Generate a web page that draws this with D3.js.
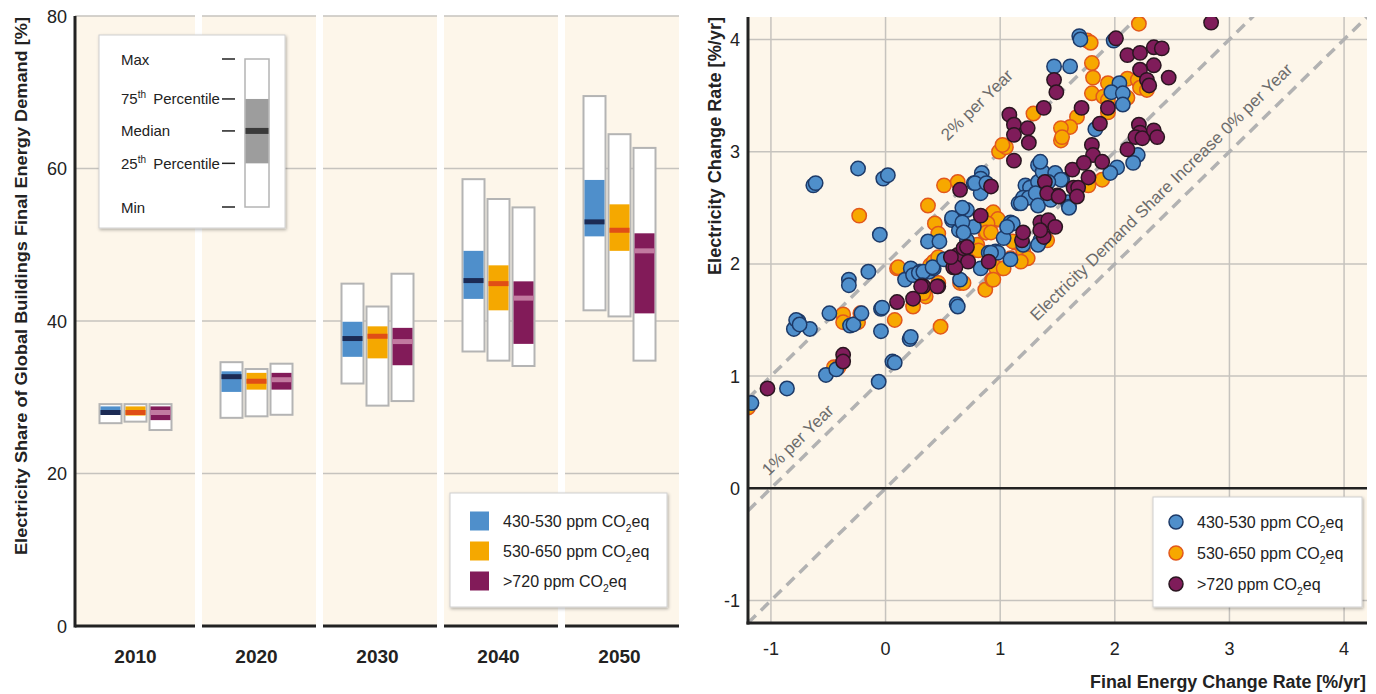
<!DOCTYPE html>
<html>
<head>
<meta charset="utf-8">
<script src="https://cdn.jsdelivr.net/npm/d3@7"></script>
<style>
  body { margin: 0; background: #fff; }
  svg text { font-family: "Liberation Sans", Arial, sans-serif; fill: #222; }
</style>
</head>
<body>
<svg id="chart" width="1376" height="694"></svg>
<script>
// ---- data ----
let years = ["2010", "2020", "2030", "2040", "2050"];
let seriesNames = ["430-530 ppm CO", "530-650 ppm CO", ">720 ppm CO"];

// [min, q1, median, q3, max] per year
let box430 = [[26.6, 27.7, 28.0, 28.8, 29.1], [27.3, 30.7, 32.7, 33.4, 34.6], [31.8, 35.3, 37.7, 39.9, 44.9], [36.0, 42.9, 45.3, 49.2, 58.6], [41.4, 51.1, 53.0, 58.5, 69.5]];
let box530 = [[26.8, 27.6, 28.0, 28.8, 29.1], [27.5, 31.0, 32.1, 33.2, 33.7], [28.9, 35.1, 38.0, 39.3, 41.9], [34.8, 41.4, 44.9, 47.3, 56.0], [40.6, 49.2, 51.9, 55.3, 64.5]];
let box720 = [[25.7, 27.0, 28.0, 28.8, 29.1], [27.7, 31.0, 32.3, 33.2, 34.4], [29.5, 34.2, 37.3, 39.1, 46.2], [34.1, 37.0, 43.0, 45.2, 54.9], [34.8, 41.0, 49.2, 51.5, 62.7]];

let leftTicks = [0, 20, 40, 60, 80];
let rightTicks = [-1, 0, 1, 2, 3, 4];
let keyLabels = ["Max", "75th Percentile", "Median", "25th Percentile", "Min"];

// final energy change rate, electricity change rate [%/yr]
let pts430 = [[-1.17,0.76],[-0.86,0.89],[-0.80,1.42],[-0.76,1.49],[-0.78,1.50],[-0.66,1.42],[-0.75,1.46],[-0.52,1.01],[-0.43,1.06],[-0.49,1.56],[-0.31,1.45],[-0.28,1.46],[-0.21,1.56],[-0.32,1.86],[-0.32,1.81],[-0.15,1.93],[-0.04,1.60],[-0.04,1.40],[-0.06,0.95],[0.06,1.13],[0.08,1.12],[0.21,1.33],[0.62,1.64],[0.63,1.62],[0.65,1.86],[0.17,1.86],[0.22,1.96],[0.30,1.93],[0.38,1.93],[0.42,1.96],[0.83,1.96],[1.09,2.04],[0.96,2.11],[0.90,2.10],[0.37,2.20],[0.47,2.20],
  [-0.63,2.70],[-0.61,2.72],[-0.24,2.85],[-0.02,2.76],[0.02,2.79],[-0.05,2.26],[0.58,2.39],[0.64,2.30],[0.65,2.39],[0.71,2.48],[0.77,2.33],[0.71,2.21],[0.77,2.72],[0.84,2.81],[0.83,2.76],[0.83,2.63],[1.03,2.23],[1.09,2.37],[1.11,2.36],[1.16,2.54],[1.22,2.70],[1.24,2.60],[1.26,2.68],[1.33,2.88],[1.33,2.73],[1.20,2.17],
  [1.37,2.82],[1.20,2.59],[1.25,2.59],[1.31,2.63],[1.33,2.52],[1.18,2.54],[1.50,2.77],[1.54,2.75],[1.59,2.55],[1.60,2.51],[0.78,2.72],[0.88,2.72],[0.67,2.50],[0.58,2.41],[0.67,2.37],[0.68,2.28],[1.06,2.33],[0.98,2.10],[0.92,2.10],[0.24,1.90],[0.29,1.92],[0.33,1.93],[0.41,1.97],[0.51,2.04],[0.32,1.81],[1.35,2.21],[1.33,2.17],[0.22,1.35],[-0.03,1.61],
  [1.69,4.03],[1.70,4.00],[1.99,3.99],[1.47,3.76],[1.61,3.76],[2.04,3.61],[1.97,3.53],[2.07,3.52],[2.07,3.42],[1.83,3.20],[2.20,2.97],[2.16,2.90],[2.02,2.86],[1.96,2.81],[1.35,2.91],[1.48,2.81],[1.53,2.75],[1.42,2.73],[1.44,2.57],[1.60,2.50]];

let pts530 = [[-1.20,0.72],[-0.45,1.08],[-0.41,1.08],[-0.37,1.55],[-0.37,1.48],[-0.24,1.48],[-0.22,1.56],[0.08,1.50],[0.10,1.96],[0.48,1.44],[0.46,1.83],[0.35,1.71],[0.24,1.62],[0.87,1.77],[0.93,1.86],[0.65,1.83],[0.77,2.12],[1.02,1.96],[1.09,2.05],[1.20,2.04],[1.20,2.12],[1.13,2.19],[0.39,1.99],
  [0.51,2.70],[0.63,2.73],[0.37,2.52],[0.43,2.36],[0.46,2.27],[0.85,2.33],[0.93,2.45],[0.96,2.39],[0.87,2.28],[0.99,3.00],[1.05,3.04],[-0.23,2.43],[1.29,3.34],[0.80,2.17],
  [0.94,2.46],[0.98,2.40],[0.89,2.36],[0.88,2.28],[0.92,2.28],[0.81,2.12],[1.02,3.06],[0.96,1.97],[1.03,1.96],[1.24,2.05],[1.18,2.02],[1.11,2.20],[0.94,1.86],[0.11,1.97],[0.33,1.74],[0.42,2.02],[0.46,2.06],[1.41,2.21],[1.53,3.10],[0.68,1.83],
  [2.21,4.14],[1.76,3.99],[1.79,3.97],[1.80,3.79],[1.81,3.66],[1.94,3.61],[2.11,3.65],[2.20,3.64],[2.22,3.57],[2.28,3.55],[1.80,3.52],[1.90,3.49],[1.94,3.46],[2.11,3.48],[1.67,3.31],[1.61,3.22],[1.53,3.21],[1.54,3.13],[1.89,2.75],[1.77,2.70],[1.94,3.35]];

let pts720 = [[-1.03,0.89],[-0.37,1.19],[-0.37,1.13],[0.10,1.66],[0.24,1.69],[0.33,1.80],[0.46,1.80],[0.31,1.80],[0.59,1.97],[0.63,2.08],[0.68,2.14],[0.71,2.15],[0.72,2.02],[0.90,2.02],[1.19,2.21],
  [1.08,3.33],[1.12,3.24],[1.12,3.15],[1.24,3.21],[1.25,3.08],[1.12,2.92],[0.65,2.66],[0.92,2.69],[0.83,2.43],
  [0.61,1.97],[0.57,2.06],[0.45,1.80],[1.20,2.28],[1.35,2.37],[1.42,2.39],[1.48,2.33],[1.38,2.24],[1.35,2.30],[1.39,2.73],[1.50,2.61],[1.63,2.84],[1.64,2.68],[1.68,2.68],
  [2.84,4.15],[2.01,4.01],[2.11,3.86],[2.22,3.88],[2.34,3.93],[2.41,3.92],[2.34,3.77],[2.22,3.73],[2.28,3.64],[2.30,3.59],[2.47,3.66],[1.47,3.64],[1.49,3.53],[1.38,3.39],[1.71,3.39],[1.94,3.39],[1.87,3.25],[2.21,3.24],[2.22,3.17],[2.18,3.13],[2.24,3.12],[2.34,3.19],[2.37,3.13],[2.11,3.02],[1.80,3.06],[1.81,2.97],[1.89,2.91],[1.73,2.90],[1.77,2.77],[1.67,2.60],[1.41,2.63],[1.51,2.60]];

let diagLines = [0, 1, 2];  // electricity rate = final energy rate + c

// ---- styles ----
let bgCream = "#fdf6ea";
let boxFill = ["#4f8fcb", "#f5a800", "#821b59"];
let medFill = ["#1c2b55", "#e04e16", "#c27aa0"];
let dotFill = ["#4f8fcb", "#f7a800", "#7f1c5a"];
let dotStroke = ["#1d3a68", "#e2581c", "#2a1620"];

let svg = d3.select("#chart");

let defs = svg.append("defs");
let shadow = defs.append("filter").attr("id", "shadow").attr("x", "-10%").attr("y", "-10%").attr("width", "130%").attr("height", "130%");
shadow.append("feDropShadow").attr("dx", 1).attr("dy", 1.5).attr("stdDeviation", 1.8).attr("flood-color", "#000").attr("flood-opacity", 0.3);

function co2Text(sel, label, size) {
    sel.text(label);
    sel.append("tspan").text("2").attr("dy", 5).style("font-size", (size * 0.65) + "px");
    sel.append("tspan").text("eq").attr("dy", -5);
}

// ================= left: box chart =================
let yL = d3.scaleLinear().domain([0, 80]).range([626, 16]);
let xL = d3.scaleBand().domain(years).range([75, 680]);
let boxOffsets = [-25, 0, 25];
let boxW = 22;
let allBoxes = [box430, box530, box720];

let left = svg.append("g");

years.forEach(function (yr, i) {
    let x0 = i === 0 ? 75 : xL(yr) + 6;
    let x1 = xL(yr) + 120;
    left.append("rect").attr("x", x0).attr("y", yL(80)).attr("width", x1 - x0).attr("height", yL(0) - yL(80)).attr("fill", bgCream);
    leftTicks.filter(t => t > 0).forEach(function (t) {
        left.append("line").attr("x1", x0).attr("x2", x1).attr("y1", yL(t)).attr("y2", yL(t))
            .attr("stroke", "#c6c3be").attr("stroke-width", 1.5);
    });
    left.append("line").attr("x1", x0).attr("x2", x1).attr("y1", yL(0)).attr("y2", yL(0))
        .attr("stroke", "#222").attr("stroke-width", 3);
    left.append("text").attr("x", xL(yr) + xL.bandwidth() / 2).attr("y", 663)
        .attr("text-anchor", "middle").style("font-size", "19px").style("font-weight", "bold").text(yr);
});

allBoxes.forEach(function (series, s) {
    series.forEach(function (d, i) {
        let cx = xL(years[i]) + xL.bandwidth() / 2 + boxOffsets[s];
        let g = left.append("g");
        g.append("rect").attr("x", cx - boxW / 2).attr("y", yL(d[4])).attr("width", boxW).attr("height", yL(d[0]) - yL(d[4]))
            .attr("fill", "#fff").attr("stroke", "#b4b4b4").attr("stroke-width", 2);
        g.append("rect").attr("x", cx - boxW / 2 + 1).attr("y", yL(d[3])).attr("width", boxW - 2).attr("height", yL(d[1]) - yL(d[3]))
            .attr("fill", boxFill[s]);
        g.append("rect").attr("x", cx - boxW / 2 + 1).attr("y", yL(d[2]) - 2.5).attr("width", boxW - 2).attr("height", 5)
            .attr("fill", medFill[s]);
    });
});

left.append("line").attr("x1", 75).attr("x2", 75).attr("y1", yL(80)).attr("y2", yL(0) + 1.5)
    .attr("stroke", "#222").attr("stroke-width", 3);

leftTicks.forEach(function (t) {
    left.append("text").attr("x", 67).attr("y", yL(t) + 6.5).attr("text-anchor", "end")
        .style("font-size", "18px").text(t);
});

left.append("text").attr("transform", "translate(27,286) rotate(-90)").attr("text-anchor", "middle")
    .attr("textLength", 538).attr("lengthAdjust", "spacingAndGlyphs")
    .style("font-size", "17px").style("font-weight", "bold")
    .text("Electricity Share of Global Buildings Final Energy Demand [%]");

// box key
let key = left.append("g");
key.append("rect").attr("x", 99).attr("y", 35).attr("width", 186).attr("height", 193)
    .attr("fill", "#fff").attr("stroke", "#d0d0d0").attr("filter", "url(#shadow)");
let keyY = d3.scaleLinear().domain([0, 1]).range([59, 207]);
let keyPos = [keyY(0), keyY(0.27), keyY(0.486), keyY(0.705), keyY(1)];
keyLabels.forEach(function (lab, i) {
    let t = key.append("text").attr("x", 121).attr("y", keyPos[i] + 5.5).style("font-size", "15px");
    if (lab.indexOf("th ") > 0) {
        t.text(lab.slice(0, 2));
        t.append("tspan").text("th").attr("dy", -6).style("font-size", "10px");
        t.append("tspan").text(lab.slice(4)).attr("dy", 6).attr("dx", 3);
    } else {
        t.text(lab);
    }
    key.append("line").attr("x1", 222).attr("x2", 235).attr("y1", keyPos[i]).attr("y2", keyPos[i])
        .attr("stroke", "#222").attr("stroke-width", 1.5);
});
key.append("rect").attr("x", 245).attr("y", keyPos[0]).attr("width", 24).attr("height", keyPos[4] - keyPos[0])
    .attr("fill", "#fff").attr("stroke", "#b4b4b4").attr("stroke-width", 1.5);
key.append("rect").attr("x", 245.5).attr("y", keyPos[1]).attr("width", 23).attr("height", keyPos[3] - keyPos[1]).attr("fill", "#9d9d9d");
key.append("rect").attr("x", 245.5).attr("y", keyPos[2] - 3).attr("width", 23).attr("height", 6).attr("fill", "#3a3a3a");

// series legend (left)
let legL = left.append("g");
legL.append("rect").attr("x", 450).attr("y", 493).attr("width", 217).attr("height", 114)
    .attr("fill", "#fff").attr("stroke", "#d0d0d0").attr("filter", "url(#shadow)");
seriesNames.forEach(function (name, i) {
    let cy = 521 + i * 30;
    legL.append("rect").attr("x", 470).attr("y", cy - 9.5).attr("width", 19).attr("height", 19).attr("fill", boxFill[i]);
    co2Text(legL.append("text").attr("x", 503).attr("y", cy + 5.5).style("font-size", "16px"), name, 16);
});

// ================= right: scatter =================
let xS = d3.scaleLinear().domain([-1.2, 4.2]).range([748, 1367]);
let yS = d3.scaleLinear().domain([-1.2, 4.2]).range([623, 17]);

let right = svg.append("g");
defs.append("clipPath").attr("id", "plotClip").append("rect")
    .attr("x", xS(-1.2)).attr("y", yS(4.2)).attr("width", xS(4.2) - xS(-1.2)).attr("height", yS(-1.2) - yS(4.2));

right.append("rect").attr("x", xS(-1.2)).attr("y", yS(4.2)).attr("width", xS(4.2) - xS(-1.2)).attr("height", yS(-1.2) - yS(4.2))
    .attr("fill", bgCream);

rightTicks.forEach(function (t) {
    right.append("line").attr("x1", xS(t)).attr("x2", xS(t)).attr("y1", yS(4.2)).attr("y2", yS(-1.2))
        .attr("stroke", "#c6c3be").attr("stroke-width", 1.5);
    right.append("line").attr("x1", xS(-1.2)).attr("x2", xS(4.2)).attr("y1", yS(t)).attr("y2", yS(t))
        .attr("stroke", "#c6c3be").attr("stroke-width", 1.5);
    right.append("text").attr("x", 740).attr("y", yS(t) + 6.5).attr("text-anchor", "end").style("font-size", "18px").text(t);
    right.append("text").attr("x", xS(t)).attr("y", 655).attr("text-anchor", "middle").style("font-size", "18px").text(t);
});

let plot = right.append("g").attr("clip-path", "url(#plotClip)");
diagLines.forEach(function (c) {
    plot.append("line").attr("x1", xS(-1.2)).attr("y1", yS(-1.2 + c)).attr("x2", xS(4.2)).attr("y2", yS(4.2 + c))
        .attr("stroke", "#b2b2b2").attr("stroke-width", 3.5).attr("stroke-dasharray", "11,7");
});
plot.append("line").attr("x1", xS(-1.2)).attr("x2", xS(4.2)).attr("y1", yS(0)).attr("y2", yS(0))
    .attr("stroke", "#222").attr("stroke-width", 2.5);

// labels along the dashed lines
let angle = Math.atan2(yS(0) - yS(1), xS(1) - xS(0)) * 180 / Math.PI;
let lineLabels = [
    { c: 1, at: -0.67, off: 10, text: "1% per Year" },
    { c: 2, at: 1.10, off: 44, text: "2% per Year" },
    { c: 0, at: 2.52, off: 13, text: "Electricity Demand Share Increase 0% per Year" }
];
lineLabels.forEach(function (l) {
    right.append("text")
        .attr("transform", "translate(" + xS(l.at) + "," + yS(l.at + l.c) + ") rotate(" + (-angle) + ")")
        .attr("y", -l.off).attr("text-anchor", "middle")
        .style("font-size", "17px").style("fill", "#6b6b6b").text(l.text);
});

[pts530, pts430, pts720].forEach(function (pts) {
    let s = pts === pts430 ? 0 : (pts === pts530 ? 1 : 2);
    plot.append("g").selectAll("circle").data(pts).enter().append("circle")
        .attr("cx", d => xS(d[0])).attr("cy", d => yS(d[1])).attr("r", 7.2)
        .attr("fill", dotFill[s]).attr("stroke", dotStroke[s]).attr("stroke-width", 1.5);
});

right.append("line").attr("x1", xS(-1.2)).attr("x2", xS(-1.2)).attr("y1", yS(4.2)).attr("y2", yS(-1.2) + 1.5)
    .attr("stroke", "#222").attr("stroke-width", 3);
right.append("line").attr("x1", xS(-1.2) - 1.5).attr("x2", xS(4.2)).attr("y1", yS(-1.2)).attr("y2", yS(-1.2))
    .attr("stroke", "#222").attr("stroke-width", 3);

right.append("text").attr("transform", "translate(721,17) rotate(-90)").attr("text-anchor", "end")
    .attr("textLength", 258).attr("lengthAdjust", "spacingAndGlyphs")
    .style("font-size", "18px").style("font-weight", "bold").text("Electricity Change Rate [%/yr]");
right.append("text").attr("x", 1366).attr("y", 688).attr("text-anchor", "end")
    .attr("textLength", 276).attr("lengthAdjust", "spacingAndGlyphs")
    .style("font-size", "18px").style("font-weight", "bold").text("Final Energy Change Rate [%/yr]");

// series legend (right)
let legR = right.append("g");
legR.append("rect").attr("x", 1153).attr("y", 497).attr("width", 209).attr("height", 110)
    .attr("fill", "#fff").attr("stroke", "#d0d0d0").attr("filter", "url(#shadow)");
seriesNames.forEach(function (name, i) {
    let cy = 522 + i * 31;
    legR.append("circle").attr("cx", 1176).attr("cy", cy).attr("r", 7)
        .attr("fill", dotFill[i]).attr("stroke", dotStroke[i]).attr("stroke-width", 1.5);
    co2Text(legR.append("text").attr("x", 1197).attr("y", cy + 5.5).style("font-size", "16px"), name, 16);
});
</script>
</body>
</html>
